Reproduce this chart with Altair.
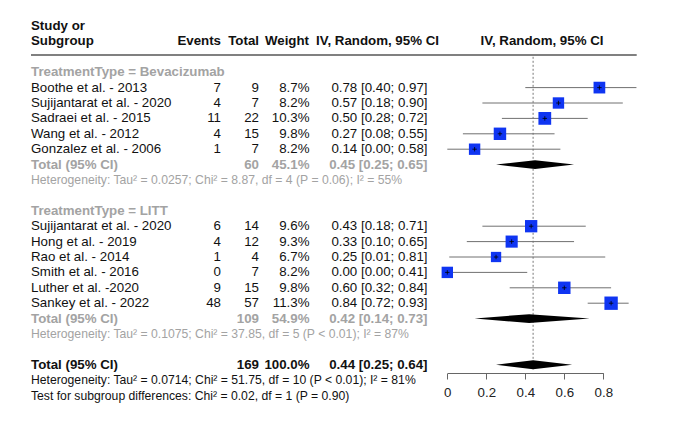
import altair as alt
import pandas as pd

# ---------------- data ----------------
studies = ["Boothe et al. - 2013", "Sujijantarat et al. - 2020", "Sadraei et al. - 2015",
           "Wang et al. - 2012", "Gonzalez et al. - 2006",
           "Sujijantarat et al. - 2020", "Hong et al. - 2019", "Rao et al. - 2014",
           "Smith et al. - 2016", "Luther et al. -2020", "Sankey et al. - 2022"]
study_rows = [4, 5, 6, 7, 8, 13, 14, 15, 16, 17, 18]
events = [7, 4, 11, 4, 1, 6, 4, 1, 0, 9, 48]
totals = [9, 7, 22, 15, 7, 14, 12, 4, 7, 15, 57]
weights = [8.7, 8.2, 10.3, 9.8, 8.2, 9.6, 9.3, 6.7, 8.2, 9.8, 11.3]
est = [0.78, 0.57, 0.50, 0.27, 0.14, 0.43, 0.33, 0.25, 0.00, 0.60, 0.84]
lo = [0.40, 0.18, 0.28, 0.08, 0.00, 0.18, 0.10, 0.01, 0.00, 0.32, 0.72]
hi = [0.97, 0.90, 0.72, 0.55, 0.58, 0.71, 0.65, 0.81, 0.41, 0.84, 0.93]

sub_labels = ["TreatmentType = Bevacizumab", "TreatmentType = LITT"]
sub_hdr_rows = [3, 12]
sub_tot_rows = [9, 19]
sub_het_rows = [10, 20]
sub_n = [60, 109]
sub_w = [45.1, 54.9]
sub_est = [0.45, 0.42]
sub_lo = [0.25, 0.14]
sub_hi = [0.65, 0.73]
sub_het = ["Heterogeneity: Tau² = 0.0257; Chi² = 8.87, df = 4 (P = 0.06); I² = 55%",
           "Heterogeneity: Tau² = 0.1075; Chi² = 37.85, df = 5 (P < 0.01); I² = 87%"]

ov_row = 22
ov_n = 169
ov_w = 100.0
ov_est = 0.44
ov_lo = 0.25
ov_hi = 0.64
ov_het = "Heterogeneity: Tau² = 0.0714; Chi² = 51.75, df = 10 (P < 0.01); I² = 81%"
ov_test = "Test for subgroup differences: Chi² = 0.02, df = 1 (P = 0.90)"
foot_rows = [23, 24]

tick_values = [0, 0.2, 0.4, 0.6, 0.8]

header_left = ["Study or", "Subgroup"]
header_cols = ["Events", "Total", "Weight", "IV, Random, 95% CI", "IV, Random, 95% CI"]

# ---------------- tables ----------------
def ci(e, l, h):
    return f"{e:.2f} [{l:.2f}; {h:.2f}]"

sdf = pd.DataFrame({
    "study": studies, "row": study_rows,
    "events": [str(v) for v in events], "total": [str(v) for v in totals],
    "wstr": [f"{w:.1f}%" for w in weights], "wt": weights,
    "ci": [ci(e, l, h) for e, l, h in zip(est, lo, hi)],
    "est": est, "lo": lo, "hi": hi,
})
hdr_df = pd.DataFrame({"label": sub_labels, "row": sub_hdr_rows})
tot_df = pd.DataFrame({
    "label": ["Total (95% CI)"] * 2, "row": sub_tot_rows,
    "n": [str(v) for v in sub_n], "wstr": [f"{w:.1f}%" for w in sub_w],
    "ci": [ci(e, l, h) for e, l, h in zip(sub_est, sub_lo, sub_hi)],
})
het_df = pd.DataFrame({"label": sub_het, "row": sub_het_rows})
ov_df = pd.DataFrame({"label": ["Total (95% CI)"], "row": [ov_row], "n": [str(ov_n)],
                      "wstr": [f"{ov_w:.1f}%"], "ci": [ci(ov_est, ov_lo, ov_hi)]})
foot_df = pd.DataFrame({"label": [ov_het, ov_test], "row": foot_rows})

DH = 0.29  # diamond half height in row units
dia = []
for i, (r, e, l, h) in enumerate(zip(sub_tot_rows + [ov_row], sub_est + [ov_est],
                                      sub_lo + [ov_lo], sub_hi + [ov_hi])):
    dia += [{"id": i, "x": l, "row": r, "row2": r},
            {"id": i, "x": e, "row": r - DH, "row2": r + DH},
            {"id": i, "x": h, "row": r, "row2": r}]
dia_df = pd.DataFrame(dia)

ref_df = pd.DataFrame({"est": [ov_est], "row": [2.0], "row2": [22.3]})
hrule_df = pd.DataFrame({"row": [1.88]})

# ---------------- layout ----------------
W, H = 669, 417
FONT = "Liberation Sans"
GREY = "#A3A3A3"
FS = 13.3
FS_SMALL = 12.2
yscale = alt.Scale(domain=[0, 24], range=[18, 18 + 15.4 * 24], nice=False, zero=False)
xscale = alt.Scale(domain=[0, 0.8], range=[439.3, 595.3], nice=False, zero=False)
xaxis = alt.Axis(values=tick_values, format="~g", title=None, grid=False,
                 offset=-52, tickSize=6, domainColor="#666666", tickColor="#666666",
                 labelFont=FONT, labelFontSize=FS, labelColor="#222222",
                 labelPadding=6, labelFlush=False, labelOverlap=False)

Y = alt.Y("row:Q", scale=yscale, axis=None)
X = lambda f: alt.X(f, scale=xscale, axis=xaxis)


def txt(df, field, x, align="left", color="#111111", bold=False, size=FS):
    return alt.Chart(df).mark_text(
        align=align, baseline="middle", font=FONT, fontSize=size,
        fontWeight="bold" if bold else "normal", color=color
    ).encode(x=alt.value(x), y=Y, text=f"{field}:N")


hl_df = pd.DataFrame({"label": header_left, "row": [0, 1]})
hc_df = [pd.DataFrame({"label": [t], "row": [1]}) for t in header_cols]

layers = [
    # reference line
    alt.Chart(ref_df).mark_rule(color="#777777", strokeDash=[2, 2], strokeWidth=1).encode(
        x=X("est:Q"), y=Y, y2="row2:Q"),
    # CI lines
    alt.Chart(sdf).mark_rule(color="#707070", strokeWidth=1).encode(
        x=X("lo:Q"), x2="hi:Q", y=Y),
    # squares
    alt.Chart(sdf).mark_square(color="#0F35F2", opacity=1).encode(
        x=X("est:Q"), y=Y,
        size=alt.Size("wt:Q", scale=alt.Scale(type="linear", domain=[0, 10], range=[0, 158]), legend=None)),
    # crosses
    alt.Chart(sdf).mark_point(shape="M-1,0H1M0,-1V1", filled=False, color="black",
                              strokeWidth=0.8, size=20, opacity=1).encode(
        x=X("est:Q"), y=Y),
    # diamonds
    alt.Chart(dia_df).mark_area(color="black", orient="vertical", opacity=1).encode(
        x=X("x:Q"), y=Y, y2="row2:Q", detail="id:N"),
    # header texts
    txt(hl_df, "label", 23, bold=True),
    txt(hc_df[0], "label", 213, "right", bold=True),
    txt(hc_df[1], "label", 251, "right", bold=True),
    txt(hc_df[2], "label", 301, "right", bold=True),
    txt(hc_df[3], "label", 369.5, "center", bold=True),
    txt(hc_df[4], "label", 534, "center", bold=True),
    # header rule
    alt.Chart(hrule_df).mark_rule(color="#808080", strokeWidth=2).encode(
        x=alt.value(23), x2=alt.value(628.7), y=Y),
    # study rows
    txt(sdf, "study", 23),
    txt(sdf, "events", 213, "right"),
    txt(sdf, "total", 251, "right"),
    txt(sdf, "wstr", 301.5, "right"),
    txt(sdf, "ci", 419.5, "right"),
    # subgroups
    txt(hdr_df, "label", 23, color=GREY, bold=True),
    txt(tot_df, "label", 23, color=GREY, bold=True),
    txt(tot_df, "n", 251, "right", color=GREY, bold=True),
    txt(tot_df, "wstr", 301.5, "right", color=GREY, bold=True),
    txt(tot_df, "ci", 419.5, "right", color=GREY, bold=True),
    txt(het_df, "label", 23, color=GREY, size=FS_SMALL),
    # overall
    txt(ov_df, "label", 23, bold=True),
    txt(ov_df, "n", 251, "right", bold=True),
    txt(ov_df, "wstr", 301.5, "right", bold=True),
    txt(ov_df, "ci", 419.5, "right", bold=True),
    txt(foot_df, "label", 23, size=FS_SMALL),
]

chart = alt.layer(*layers).properties(
    width=W, height=H, autosize=alt.AutoSizeParams(type="none"), padding=0,
    background="white"
).configure_view(strokeWidth=0, stroke=None)

chart.save("out.html", embed_options={"renderer": "svg", "actions": False})
